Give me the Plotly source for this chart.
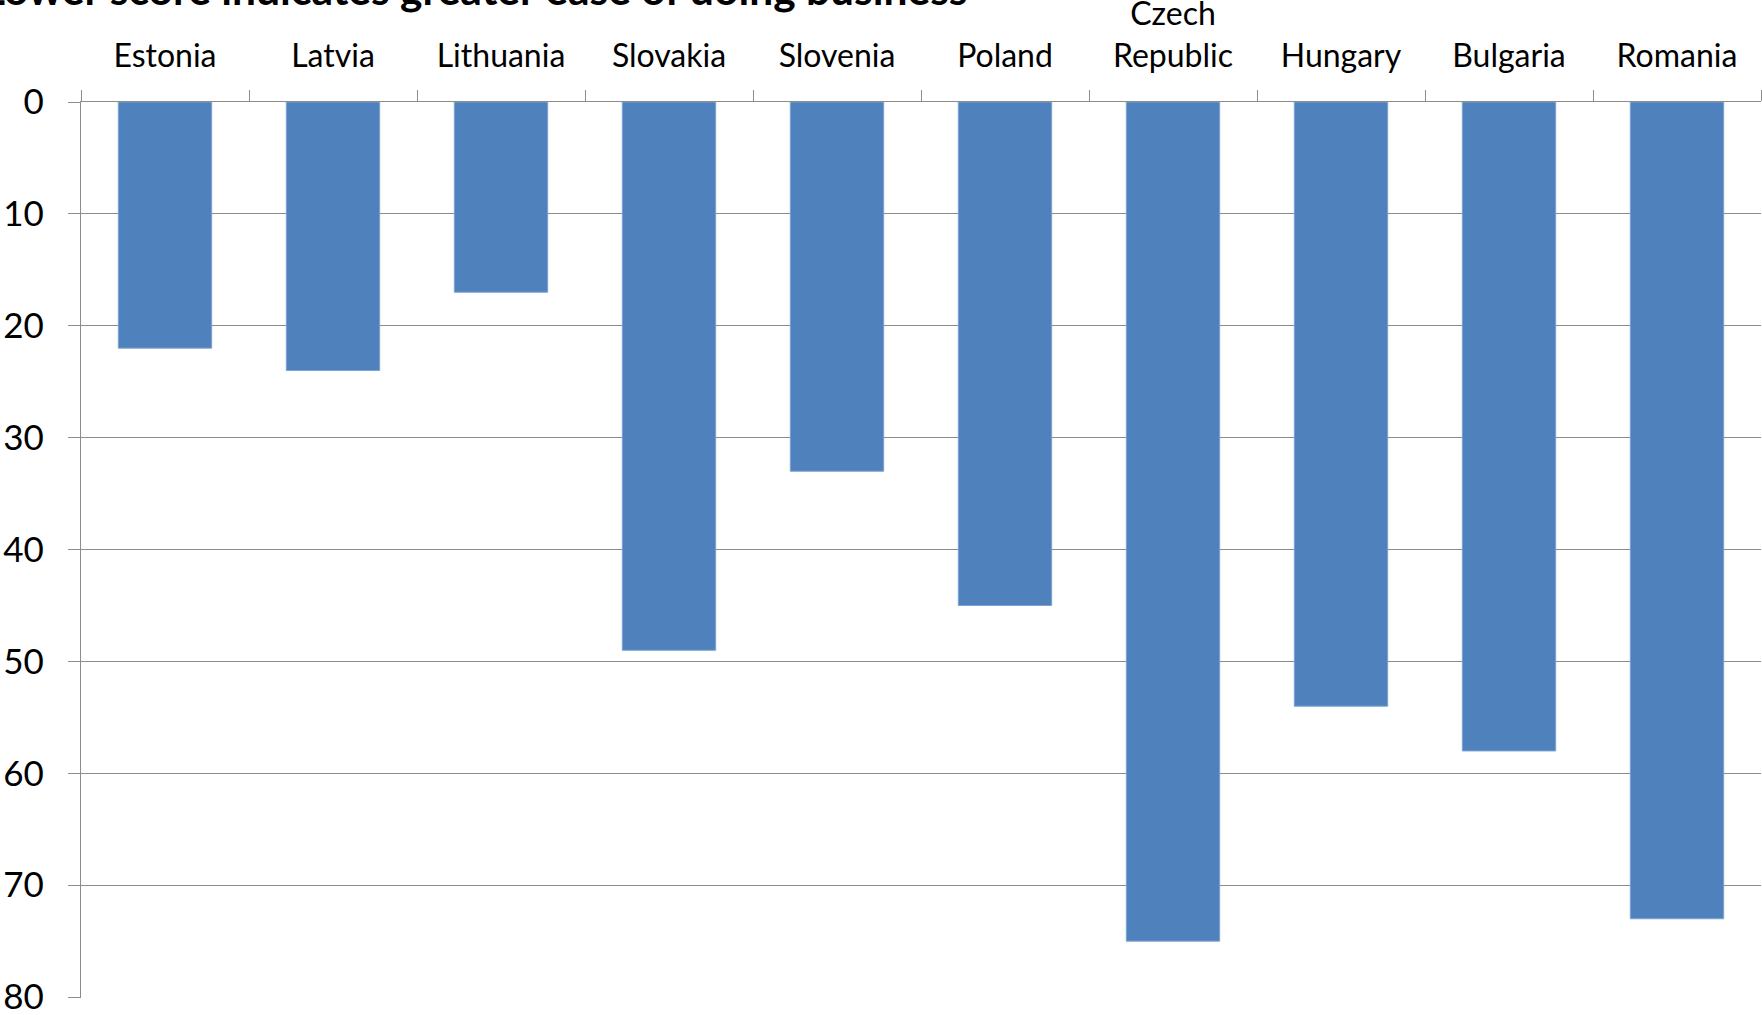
import plotly.graph_objects as go

countries = ["Estonia", "Latvia", "Lithuania", "Slovakia", "Slovenia", "Poland",
             "Czech<br>Republic", "Hungary", "Bulgaria", "Romania"]
scores = [22, 24, 17, 49, 33, 45, 75, 54, 58, 73]
y_ticks = [0, 10, 20, 30, 40, 50, 60, 70, 80]
title_text = "Lower score indicates greater ease of doing business"

FONT = "Lato"
GRID = "#8c8c8c"

fig = go.Figure()
fig.add_trace(go.Bar(
    x=countries, y=scores,
    marker=dict(color="#4F81BD", line=dict(color="#7ea3d3", width=1)),
    width=0.556,
))

fig.update_layout(
    width=1762, height=1015,
    margin=dict(l=81, r=1, t=102, b=17, autoexpand=False),
    paper_bgcolor="white", plot_bgcolor="white",
    showlegend=False,
    font=dict(family=FONT, color="black"),
    bargap=0.444,
)
fig.update_xaxes(
    side="top", type="category", automargin=False,
    showline=True, linecolor=GRID, linewidth=1.3,
    ticks="outside", tickson="boundaries", ticklen=11, tickcolor=GRID, tickwidth=1.3,
    tickfont=dict(size=32, family=FONT),
    ticklabelstandoff=21,
    showgrid=False,
)
fig.update_yaxes(
    range=[80.08, 0], tickvals=y_ticks, automargin=False,
    showline=True, linecolor=GRID, linewidth=1.3,
    ticks="outside", ticklen=12, tickcolor=GRID, tickwidth=1.3,
    showgrid=True, gridcolor=GRID, gridwidth=1.3,
    zeroline=False,
    tickfont=dict(size=35, family=FONT),
    ticklabelstandoff=17,
    ticklabeloverflow="allow",
)
fig.add_annotation(
    text="<b>" + title_text + "</b>",
    xref="paper", yref="paper", x=0, y=1,
    xanchor="left", yanchor="bottom",
    xshift=-100, yshift=86,
    showarrow=False,
    font=dict(size=42.5, family=FONT, color="black"),
)

fig.write_html("out.html")
